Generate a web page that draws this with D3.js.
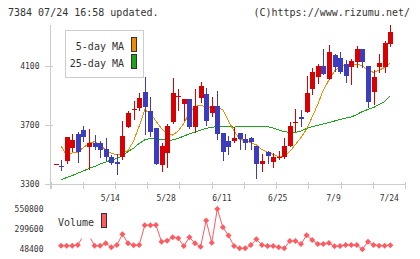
<!DOCTYPE html>
<html>
<head>
<meta charset="utf-8">
<script src="https://cdn.jsdelivr.net/npm/d3@7"></script>
<style>
body { margin: 0; background: #fff; }
svg { display: block; }
</style>
</head>
<body>
<script>
const w = 420;
const h = 259;

// trading days shown on the chart
const dates = ["4/25","4/26","4/30","5/1","5/2","5/7","5/8","5/9","5/10","5/13",
    "5/14","5/15","5/16","5/17","5/20","5/21","5/22","5/23","5/24","5/27",
    "5/28","5/29","5/30","5/31","6/3","6/4","6/5","6/6","6/7","6/10",
    "6/11","6/12","6/13","6/14","6/17","6/18","6/19","6/20","6/21","6/24",
    "6/25","6/26","6/27","6/28","7/1","7/2","7/3","7/4","7/5","7/8",
    "7/9","7/10","7/11","7/12","7/16","7/17","7/18","7/19","7/22","7/23","7/24"];
const dateLabels = ["5/14","5/28","6/11","6/25","7/9","7/24"];

const open  = [3435,3425,3455,3543,3638,3665,3550,3575,3574,3535,3483,3449,3485,3685,3797,3812,3924,3794,3679,3428,
    3512,3721,3886,3839,3873,3688,3880,3909,3782,3827,3645,3591,3593,3643,3604,3608,3557,3435,3518,3451,
    3478,3483,3557,3716,3751,3787,3942,4026,4098,4010,4172,4154,4111,4093,4127,4213,4098,3924,4089,4093,4245];
const high  = [3435,3460,3620,3638,3654,3692,3672,3631,3591,3611,3493,3503,3728,3794,3861,3915,4026,3888,3681,3577,
    3709,4017,3940,3875,3875,3940,3992,3947,3890,3931,3647,3625,3683,3645,3641,3620,3557,3501,3520,3512,
    3523,3614,3721,3807,3800,4030,4084,4111,4211,4240,4179,4195,4138,4143,4233,4213,4098,4069,4179,4267,4375];
const low   = [3435,3388,3435,3516,3440,3584,3395,3530,3479,3456,3428,3361,3462,3679,3733,3794,3631,3618,3428,3383,
    3406,3709,3796,3728,3670,3647,3850,3692,3753,3598,3458,3496,3575,3530,3533,3530,3334,3381,3435,3406,
    3462,3469,3548,3652,3685,3780,3902,3976,4034,4003,4059,4042,3985,3969,4082,4082,3814,3834,4049,4053,4224];
const close = [3435,3418,3615,3598,3518,3620,3575,3552,3533,3483,3440,3435,3625,3778,3804,3884,3819,3654,3435,3557,
    3692,3915,3892,3873,3683,3827,3963,3728,3827,3638,3518,3547,3613,3601,3575,3586,3435,3455,3489,3485,
    3483,3557,3692,3721,3742,3917,4057,4098,4044,4191,4093,4059,4030,4132,4213,4127,3857,4022,4120,4256,4326];

const ma5  = [null,3557,3496,3510,3516,3547,3574,3586,3564,3530,3508,3496,3506,3527,3591,3692,3800,3780,3726,3675,
    3641,3631,3658,3709,3780,3824,3834,3819,3817,3819,3800,3726,3658,3604,3591,3581,3564,3533,3513,3500,
    3486,3485,3520,3567,3614,3672,3753,3838,3936,4003,4064,4095,4105,4108,4111,4098,4071,4054,4070,4088,4120];
const ma25 = [null,3327,3344,3357,3374,3388,3405,3418,3435,3449,3462,3472,3489,3520,3543,3574,3598,3608,3608,3601,
    3595,3598,3608,3625,3638,3652,3665,3677,3683,3688,3690,3688,3685,3688,3689,3690,3690,3690,3687,3679,
    3665,3654,3648,3648,3658,3675,3688,3696,3706,3715,3726,3736,3745,3753,3770,3790,3804,3817,3838,3858,3895];

const volume = [null,90000,90000,90000,98600,218000,218000,90000,90000,120000,69750,98600,233000,120000,95000,98600,346000,346000,349800,140000,
    152600,195300,182800,86000,195300,120000,77300,406400,127500,550800,321000,218000,86000,57200,57200,98600,170200,98600,86000,86000,
    69750,57200,148900,148900,111200,220500,161400,111200,111200,123800,82300,86000,98600,98600,98600,44600,140000,98600,90000,90000,94900];

const priceTicks = [3300, 3700, 4100];
const volTicks = [48400, 299600, 550800];

const red = "#d80000";
const blue = "#3c3cbe";
const orange = "#f08c00";
const green = "#1aa51a";
const volColor = "#ff5a5f";
const axisColor = "#cccccc";
const font = "'DejaVu Sans Mono', monospace";

const svg = d3.select("body")
    .append("svg")
    .attr("width", w)
    .attr("height", h);

// header
svg.append("text")
    .attr("x", 8).attr("y", 16)
    .attr("font-family", font).attr("font-size", 10).attr("fill", "#333")
    .text("7384 07/24 16:58 updated.");
svg.append("text")
    .attr("x", 410).attr("y", 16)
    .attr("text-anchor", "end")
    .attr("font-family", font).attr("font-size", 10).attr("fill", "#333")
    .text("(C)https://www.rizumu.net/");

const xScale = d3.scalePoint()
    .domain(dates)
    .range([55.5, 390.3]);

const yScale = d3.scaleLinear()
    .domain([3300, 4375])
    .range([184, 25]);

const vScale = d3.scaleLinear()
    .domain([48400, 550800])
    .range([249, 209]);

// grid ticks along the bottom, fixed spacing
const gridScale = d3.scaleLinear().domain([0, 11]).range([50.5, 405]);

const axes = svg.append("g").attr("stroke", axisColor).attr("stroke-width", 1);
axes.append("line")
    .attr("x1", 50.5).attr("x2", 50.5).attr("y1", 25).attr("y2", 189);
axes.append("line")
    .attr("x1", 50.5).attr("x2", 405).attr("y1", 184.5).attr("y2", 184.5);
axes.selectAll(".xt")
    .data(gridScale.ticks(11))
    .enter()
    .append("line")
    .attr("x1", d => Math.round(gridScale(d)) + 0.5)
    .attr("x2", d => Math.round(gridScale(d)) + 0.5)
    .attr("y1", 182).attr("y2", 189);
axes.selectAll(".yt")
    .data(priceTicks)
    .enter()
    .append("line")
    .attr("x1", 45).attr("x2", 53)
    .attr("y1", d => Math.round(yScale(d)) + 0.5)
    .attr("y2", d => Math.round(yScale(d)) + 0.5);

svg.selectAll(".ylab")
    .data(priceTicks)
    .enter()
    .append("text")
    .attr("x", 39.5)
    .attr("y", d => yScale(d) + 3)
    .attr("text-anchor", "end")
    .attr("font-family", font).attr("font-size", 8).attr("fill", "#333")
    .text(d => d);

svg.selectAll(".xlab")
    .data(dateLabels)
    .enter()
    .append("text")
    .attr("x", d => xScale(d) - 1)
    .attr("y", 201)
    .attr("text-anchor", "middle")
    .attr("font-family", font).attr("font-size", 8).attr("fill", "#333")
    .text(d => d);

svg.selectAll(".vlab")
    .data(volTicks)
    .enter()
    .append("text")
    .attr("x", 43.5)
    .attr("y", d => vScale(d) + 3)
    .attr("text-anchor", "end")
    .attr("font-family", font).attr("font-size", 8).attr("fill", "#333")
    .text(d => d);

// moving averages
const ma = (arr, color) => {
    const line = d3.line()
        .defined(d => d != null)
        .x((d, i) => xScale(dates[i]))
        .y(d => yScale(d));
    svg.append("path")
        .datum(arr)
        .attr("d", line)
        .attr("fill", "none")
        .attr("stroke", color)
        .attr("stroke-width", 1)
        .attr("shape-rendering", "crispEdges");
};
ma(ma25, green);
ma(ma5, orange);

// candles
const candles = svg.append("g").selectAll("g")
    .data(dates.map((d, i) => ({date: d, o: open[i], h: high[i], l: low[i], c: close[i]})))
    .enter()
    .append("g")
    .attr("shape-rendering", "crispEdges");

candles.append("line")
    .attr("x1", d => Math.round(xScale(d.date)) + 0.5)
    .attr("x2", d => Math.round(xScale(d.date)) + 0.5)
    .attr("y1", d => yScale(d.h))
    .attr("y2", d => yScale(d.l))
    .attr("stroke", d => d.c >= d.o ? red : blue)
    .attr("stroke-width", 1);

candles.append("rect")
    .attr("x", d => Math.round(xScale(d.date)) - 2)
    .attr("width", 5)
    .attr("y", d => yScale(Math.max(d.o, d.c)))
    .attr("height", d => Math.max(1, yScale(Math.min(d.o, d.c)) - yScale(Math.max(d.o, d.c))))
    .attr("fill", d => d.c >= d.o ? red : blue);

// price legend
const lg = svg.append("g");
lg.append("rect")
    .attr("x", 65.5).attr("y", 30.5).attr("width", 78).attr("height", 47)
    .attr("fill", "#fff").attr("stroke", axisColor);
[["5-day MA", orange, 49.5, 37.5], ["25-day MA", green, 67, 54.5]].forEach(([label, color, ty, by]) => {
    lg.append("text")
        .attr("x", 124).attr("y", ty)
        .attr("text-anchor", "end")
        .attr("font-family", font).attr("font-size", 10).attr("fill", "#333")
        .text(label);
    lg.append("rect")
        .attr("x", 131.5).attr("y", by).attr("width", 5).attr("height", 14)
        .attr("fill", color).attr("stroke", "#333");
});

// volume
const vLine = d3.line()
    .defined(d => d != null)
    .x((d, i) => xScale(dates[i]))
    .y(d => vScale(d));
svg.append("path")
    .datum(volume)
    .attr("d", vLine)
    .attr("fill", "none")
    .attr("stroke", volColor)
    .attr("stroke-width", 1);
svg.selectAll(".vpt")
    .data(volume.map((v, i) => ({date: dates[i], v: v})).filter(d => d.v != null))
    .enter()
    .append("path")
    .attr("d", d3.symbol(d3.symbolDiamond2, 23))
    .attr("transform", d => `translate(${xScale(d.date)},${vScale(d.v)})`)
    .attr("fill", volColor);

// volume legend
svg.append("rect")
    .attr("x", 55).attr("y", 206).attr("width", 56).attr("height", 32.5)
    .attr("fill", "#fff");
svg.append("text")
    .attr("x", 58).attr("y", 226)
    .attr("font-family", font).attr("font-size", 10).attr("fill", "#333")
    .text("Volume");
svg.append("rect")
    .attr("x", 101.5).attr("y", 213.5).attr("width", 5).attr("height", 14)
    .attr("fill", volColor).attr("stroke", "#333");
</script>
</body>
</html>
